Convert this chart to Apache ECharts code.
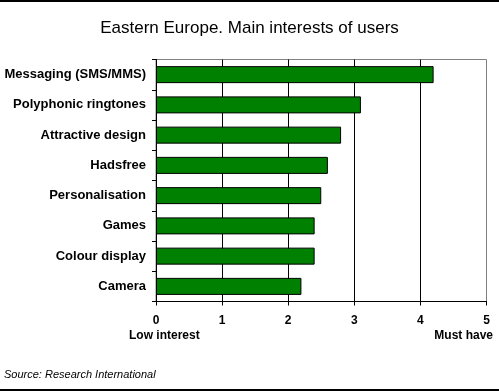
<!DOCTYPE html>
<html><head><meta charset="utf-8">
<script src="https://cdn.jsdelivr.net/npm/echarts@6/dist/echarts.min.js"></script>
<style>html,body{margin:0;padding:0;background:#fff}#c{width:499px;height:391px}</style>
</head><body><div id="c"></div>
<script>
const categories = ["Messaging (SMS/MMS)","Polyphonic ringtones","Attractive design","Hadsfree","Personalisation","Games","Colour display","Camera"];
const values = [4.2, 3.1, 2.8, 2.6, 2.5, 2.4, 2.4, 2.2];
const xTicks = [0, 1, 2, 3, 4, 5];
const titleText = "Eastern Europe. Main interests of users";
const lowLabel = "Low interest";
const highLabel = "Must have";
const sourceText = "Source: Research International";

const F = "Arial, 'Liberation Sans', sans-serif";
const chart = echarts.init(document.getElementById('c'), null, {renderer:'canvas'});
chart.setOption({
  animation: false,
  backgroundColor: '#fff',
  title: {text: titleText, left: 'center', top: 15,
    textStyle: {fontFamily: F, fontSize: 17, fontWeight: 'normal', color: '#000'}},
  grid: {left: 156, right: 12.5, top: 59.5, bottom: 89.5, show: true, borderColor: '#808080', borderWidth: 1, containLabel: false},
  xAxis: {type: 'value', min: xTicks[0], max: xTicks[xTicks.length-1], interval: 1,
    axisLine: {show: true, lineStyle: {color: '#000', width: 1}},
    axisTick: {show: true, length: 4, lineStyle: {color: '#000'}},
    axisLabel: {margin: 13, fontFamily: F, fontSize: 12, fontWeight: 'bold', color: '#000'},
    splitLine: {show: true, showMinLine: false, showMaxLine: false, lineStyle: {color: '#000', width: 1}}},
  yAxis: {type: 'category', data: categories, inverse: true,
    axisLine: {show: true, lineStyle: {color: '#000', width: 1}},
    axisTick: {show: true, length: 4, alignWithLabel: false, lineStyle: {color: '#000'}},
    axisLabel: {margin: 10, fontFamily: F, fontSize: 13, fontWeight: 'bold', color: '#000'},
    splitLine: {show: false}},
  series: [{type: 'bar', data: values, barWidth: 17,
    itemStyle: {color: '#008000', borderColor: '#000', borderWidth: 1}}],
  graphic: [
    {type: 'text', left: 129, top: 330, style: {text: lowLabel, font: 'bold 12px ' + F, fill: '#000'}},
    {type: 'text', right: 6, top: 330, style: {text: highLabel, font: 'bold 12px ' + F, fill: '#000'}},
    {type: 'text', left: 4, top: 369, style: {text: sourceText, font: 'italic 11px ' + F, fill: '#000'}},
    {type: 'line', shape: {x1: 0, y1: 1, x2: 499, y2: 1}, style: {stroke: '#000', lineWidth: 2}},
    {type: 'line', shape: {x1: 0, y1: 390, x2: 499, y2: 390}, style: {stroke: '#000', lineWidth: 2}}
  ]
});
</script></body></html>
